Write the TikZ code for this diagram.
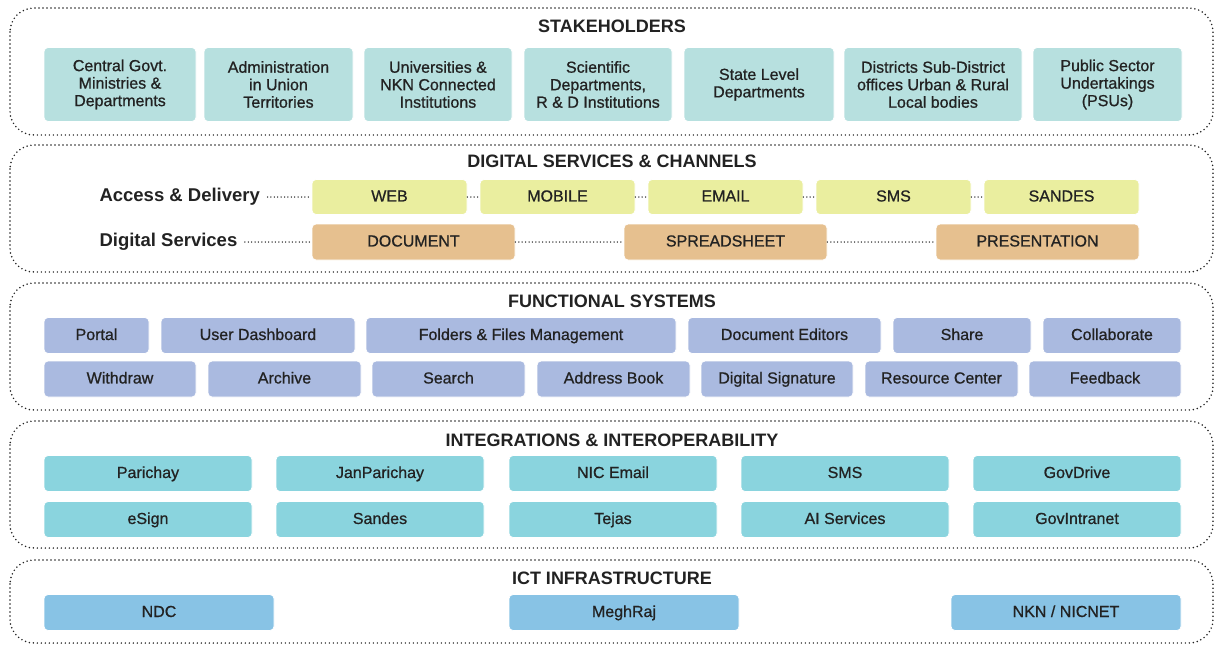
\documentclass[tikz,border=0pt]{standalone}
\usepackage{fontspec}
\setmainfont{Liberation Sans}
\newfontfamily\medfont{Liberation Sans}[FakeBold=0.8]
\usetikzlibrary{calc}

\definecolor{stkcol}{HTML}{B7E0DF}
\definecolor{acccol}{HTML}{EAEE9F}
\definecolor{doccol}{HTML}{E6C08F}
\definecolor{funcol}{HTML}{AABAE0}
\definecolor{intcol}{HTML}{8AD4DE}
\definecolor{ictcol}{HTML}{88C3E5}
\definecolor{txtcol}{HTML}{222222}

\begin{document}
\begin{tikzpicture}[
      x=1pt, y=-1pt,
      panel/.style={draw=txtcol, line width=1.7pt, dash pattern=on 0pt off 4pt,
        line cap=round, rounded corners=24pt},
      title/.style={font=\bfseries\fontsize{18}{20}\selectfont, text=txtcol},
      side/.style={font=\bfseries\fontsize{18.5}{20}\selectfont, text=txtcol, anchor=west},
      box/.style={rounded corners=4pt, draw=white, line width=0.8pt, text=txtcol,
        align=center, inner sep=1pt, font=\medfont\fontsize{16}{17.5}\selectfont},
      line/.style={text height=2ex, text depth=0.3ex},
      link/.style={draw=txtcol, line width=1.5pt, dash pattern=on 0pt off 3.4pt, line cap=round}
    ]
    \useasboundingbox (0,0) rectangle (1220,645);

    % Camadas
    \draw[panel] (10,8) rectangle (1213,135);
    \draw[panel] (10,145) rectangle (1213,272);
    \draw[panel] (10,283) rectangle (1213,410);
    \draw[panel] (10,421) rectangle (1213,548);
    \draw[panel] (10,560) rectangle (1213,643);

    \node[title] (tstk) at (612,26) {STAKEHOLDERS};
    \node[title] (tdig) at (612,161) {DIGITAL SERVICES \& CHANNELS};
    \node[title] (tfun) at (612,301) {FUNCTIONAL SYSTEMS};
    \node[title] (tint) at (612,440) {INTEGRATIONS \& INTEROPERABILITY};
    \node[title] (tict) at (612,578) {ICT INFRASTRUCTURE};

    % Stakeholders
    \tikzset{stk/.style={box, fill=stkcol, minimum height=74pt}}
    \node[stk, minimum width=152pt] (s1) at (120,84.5) {Central Govt.\\Ministries \&\\Departments};
    \node[stk, minimum width=149pt] (s2) at (278.5,84.5) {Administration\\in Union\\Territories};
    \node[stk, minimum width=148pt] (s3) at (438,84.5) {Universities \&\\NKN Connected\\Institutions};
    \node[stk, minimum width=148pt] (s4) at (598,84.5) {Scientific\\Departments,\\R \& D Institutions};
    \node[stk, minimum width=150pt] (s5) at (759,84.5) {State Level\\Departments};
    \node[stk, minimum width=178pt] (s6) at (933,84.5) {Districts Sub-District\\offices Urban \& Rural\\Local bodies};
    \node[stk, minimum width=149pt] (s7) at (1107.5,84.5) {Public Sector\\Undertakings\\(PSUs)};

    % Digital services & channels
    \tikzset{acc/.style={box, line, fill=acccol, minimum width=155pt, minimum height=35pt}}
    \tikzset{doc/.style={box, line, fill=doccol, minimum width=203pt, minimum height=36pt}}
    \node[side] (lacc) at (96,197) {Access \& Delivery};
    \node[side] (ldig) at (96,242) {Digital Services};
    \node[acc] (web) at (389.5,197) {WEB};
    \node[acc] (mob) at (557.5,197) {MOBILE};
    \node[acc] (mail) at (725.5,197) {EMAIL};
    \node[acc] (sms) at (893.5,197) {SMS};
    \node[acc] (snd) at (1061.5,197) {SANDES};
    \node[doc] (docu) at (413.5,242) {DOCUMENT};
    \node[doc] (sheet) at (725.5,242) {SPREADSHEET};
    \node[doc] (pres) at (1037.5,242) {PRESENTATION};

    \draw[link] ($(lacc.east)+(4,0)$) -- (web.west);
    \draw[link] (web) -- (mob);
    \draw[link] (mob) -- (mail);
    \draw[link] (mail) -- (sms);
    \draw[link] (sms) -- (snd);
    \draw[link] ($(ldig.east)+(4,0)$) -- (docu.west);
    \draw[link] (docu) -- (sheet);
    \draw[link] (sheet) -- (pres);

    % Functional systems
    \tikzset{fun/.style={box, line, fill=funcol, minimum height=36pt}}
    \node[fun, minimum width=105pt] (portal) at (96.5,335.5) {Portal};
    \node[fun, minimum width=194pt] (dash) at (258,335.5) {User Dashboard};
    \node[fun, minimum width=310pt] (files) at (521,335.5) {Folders \& Files Management};
    \node[fun, minimum width=193pt] (edit) at (784.5,335.5) {Document Editors};
    \node[fun, minimum width=138pt] (share) at (962,335.5) {Share};
    \node[fun, minimum width=138pt] (collab) at (1112,335.5) {Collaborate};
    \node[fun, minimum width=152pt] (withd) at (120,379) {Withdraw};
    \node[fun, minimum width=153pt] (arch) at (284.5,379) {Archive};
    \node[fun, minimum width=153pt] (search) at (448.5,379) {Search};
    \node[fun, minimum width=153pt] (addr) at (613.5,379) {Address Book};
    \node[fun, minimum width=152pt] (sign) at (777,379) {Digital Signature};
    \node[fun, minimum width=153pt] (res) at (941.5,379) {Resource Center};
    \node[fun, minimum width=152pt] (feed) at (1105,379) {Feedback};

    % Integrations & interoperability
    \tikzset{int/.style={box, line, fill=intcol, minimum width=208pt, minimum height=36pt}}
    \node[int] (pari) at (148,473.5) {Parichay};
    \node[int] (jan) at (380,473.5) {JanParichay};
    \node[int] (nic) at (613,473.5) {NIC Email};
    \node[int] (isms) at (845,473.5) {SMS};
    \node[int] (drive) at (1077,473.5) {GovDrive};
    \node[int] (esign) at (148,519.5) {eSign};
    \node[int] (isnd) at (380,519.5) {Sandes};
    \node[int] (tejas) at (613,519.5) {Tejas};
    \node[int] (ai) at (845,519.5) {AI Services};
    \node[int] (intra) at (1077,519.5) {GovIntranet};

    % ICT infrastructure
    \tikzset{ict/.style={box, line, fill=ictcol, minimum width=230pt, minimum height=36pt}}
    \node[ict] (ndc) at (159,612.5) {NDC};
    \node[ict] (megh) at (624,612.5) {MeghRaj};
    \node[ict] (nkn) at (1066,612.5) {NKN / NICNET};
  \end{tikzpicture}
\end{document}
